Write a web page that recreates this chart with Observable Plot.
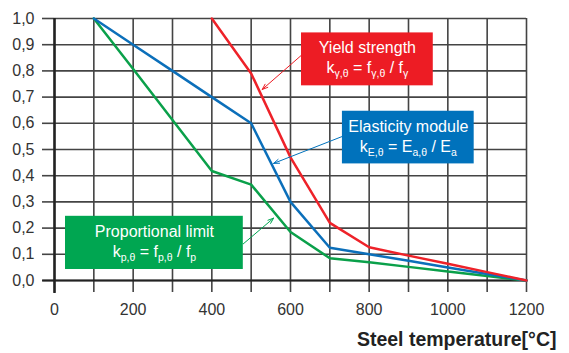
<!DOCTYPE html>
<html><head><meta charset="utf-8">
<script src="https://cdn.jsdelivr.net/npm/d3@7"></script>
<script src="https://cdn.jsdelivr.net/npm/@observablehq/plot@0.6"></script>
<style>
body{margin:0;background:#fff;}
#chart svg{display:block;}
</style>
</head><body><div id="chart"></div>
<script>
// Data
const yieldTemps = [400, 500, 600, 700, 800, 900, 1000, 1100, 1200];
const yieldVals  = [1.0, 0.79, 0.47, 0.22, 0.127, 0.095, 0.064, 0.032, 0.0];
const elastTemps = [100, 200, 300, 400, 500, 600, 700, 800, 900, 1000, 1100, 1200];
const elastVals  = [1.0, 0.9, 0.8, 0.7, 0.6, 0.30, 0.125, 0.10, 0.075, 0.05, 0.025, 0.0];
const propTemps  = [100, 200, 300, 400, 500, 600, 700, 800, 900, 1000, 1100, 1200];
const propVals   = [1.0, 0.807, 0.613, 0.418, 0.366, 0.185, 0.085, 0.07, 0.052, 0.034, 0.017, 0.0];

const xTicks = [0, 200, 400, 600, 800, 1000, 1200];
const xGrid = [0, 100, 200, 300, 400, 500, 600, 700, 800, 900, 1000, 1100, 1200];
const yTicks = [0, 0.1, 0.2, 0.3, 0.4, 0.5, 0.6, 0.7, 0.8, 0.9, 1.0];
const xLabel = "Steel temperature[°C]";

// annotation boxes
const boxNames    = ["Yield strength", "Elasticity module", "Proportional limit"];
const boxFormulas = ["k_{γ,θ} = f_{γ,θ} / f_{γ}", "k_{E,θ} = E_{a,θ} / E_{a}", "k_{p,θ} = f_{p,θ} / f_{p}"];
const boxColors   = ["#ed1c24", "#0072bc", "#00a651"];
const boxX1 = [628, 732, 28];
const boxX2 = [963, 1067, 480];
const boxY1 = [0.743, 0.445, 0.042];
const boxY2 = [0.945, 0.646, 0.245];
const arrowX1 = [628, 732, 480];
const arrowY1 = [0.86, 0.55, 0.14];
const arrowX2 = [528, 557, 557];
const arrowY2 = [0.729, 0.447, 0.238];

const series = [
  {temps: propTemps, vals: propVals, color: "#0aa04a"},
  {temps: elastTemps, vals: elastVals, color: "#0b6fba"},
  {temps: yieldTemps, vals: yieldVals, color: "#ee2229"}
];
const boxes = boxNames.map((n, i) => ({
  name: n, formula: boxFormulas[i], color: boxColors[i],
  x1: boxX1[i], x2: boxX2[i], y1: boxY1[i], y2: boxY2[i],
  xc: (boxX1[i] + boxX2[i]) / 2, yc: (boxY1[i] + boxY2[i]) / 2,
  ax1: arrowX1[i], ay1: arrowY1[i], ax2: arrowX2[i], ay2: arrowY2[i]
}));

const fmt = d => d.toFixed(1).replace(".", ",");
const font = "'Liberation Sans', Arial, sans-serif";

const marks = [
  Plot.gridX(xGrid, {stroke: "#444", strokeOpacity: 1, strokeWidth: 1.6}),
  Plot.gridY(yTicks, {stroke: "#444", strokeOpacity: 1, strokeWidth: 1.6}),
  Plot.axisX(xGrid, {tickSize: 12, tickFormat: () => "", stroke: "#444", strokeWidth: 1.6, label: null}),
  Plot.axisX(xTicks, {tickSize: 12, tickPadding: 11, tickFormat: d => String(d), fontSize: 16, fill: "#333", stroke: "none", label: null}),
  Plot.axisY(yTicks, {tickSize: 12, tickPadding: 8, tickFormat: fmt, fontSize: 16, fill: "#333", stroke: "#444", strokeWidth: 1.6, label: null}),
  Plot.ruleX([0], {stroke: "#222", strokeWidth: 2.5, y1: -0.05, y2: 1}),
  Plot.ruleY([0], {stroke: "#222", strokeWidth: 2, x1: -30, x2: 1200}),
];
for (const s of series) {
  marks.push(Plot.line(s.temps.map((t, i) => ({t, v: s.vals[i]})), {x: "t", y: "v", stroke: s.color, strokeWidth: 2.5, strokeLinejoin: "miter"}));
}
marks.push(
  Plot.arrow(boxes, {x1: "ax1", y1: "ay1", x2: "ax2", y2: "ay2", stroke: "color", strokeWidth: 1, headLength: 9, headAngle: 40}),
  Plot.rect(boxes, {x1: "x1", x2: "x2", y1: "y1", y2: "y2", fill: "color"}),
  Plot.text(boxes, {x: "xc", y: "yc", text: "name", dy: -11, fill: "white", fontSize: 16}),
  Plot.text(boxes, {x: "xc", y: "yc", text: "formula", dy: 9, fill: "white", fontSize: 16, className: "formula"}),
  Plot.text([xLabel], {frameAnchor: "bottom-right", dx: 30, dy: 65, fontWeight: "bold", fontSize: 19.5, fill: "#222", textAnchor: "end"})
);

const chart = Plot.plot({
  width: 569, height: 353,
  marginLeft: 54, marginRight: 43, marginTop: 18, marginBottom: 73,
  style: {fontFamily: font, background: "white", overflow: "visible"},
  x: {domain: [0, 1200], label: null},
  y: {domain: [0, 1], label: null},
  color: {type: "identity"},
  marks
});

// render subscripts in formulas
const NS = "http://www.w3.org/2000/svg";
chart.querySelectorAll("g.formula text").forEach(t => {
  const raw = t.textContent;
  t.textContent = "";
  const parts = raw.split(/(_\{[^}]*\})/).filter(p => p);
  let lowered = false;
  for (const p of parts) {
    const ts = document.createElementNS(NS, "tspan");
    if (p.startsWith("_{")) {
      ts.textContent = p.slice(2, -1);
      ts.setAttribute("font-size", "10.5");
      ts.setAttribute("dy", "4");
      lowered = true;
    } else {
      ts.textContent = p;
      if (lowered) { ts.setAttribute("dy", "-4"); lowered = false; }
    }
    t.appendChild(ts);
  }
});
document.getElementById("chart").appendChild(chart);
</script>
</body></html>
